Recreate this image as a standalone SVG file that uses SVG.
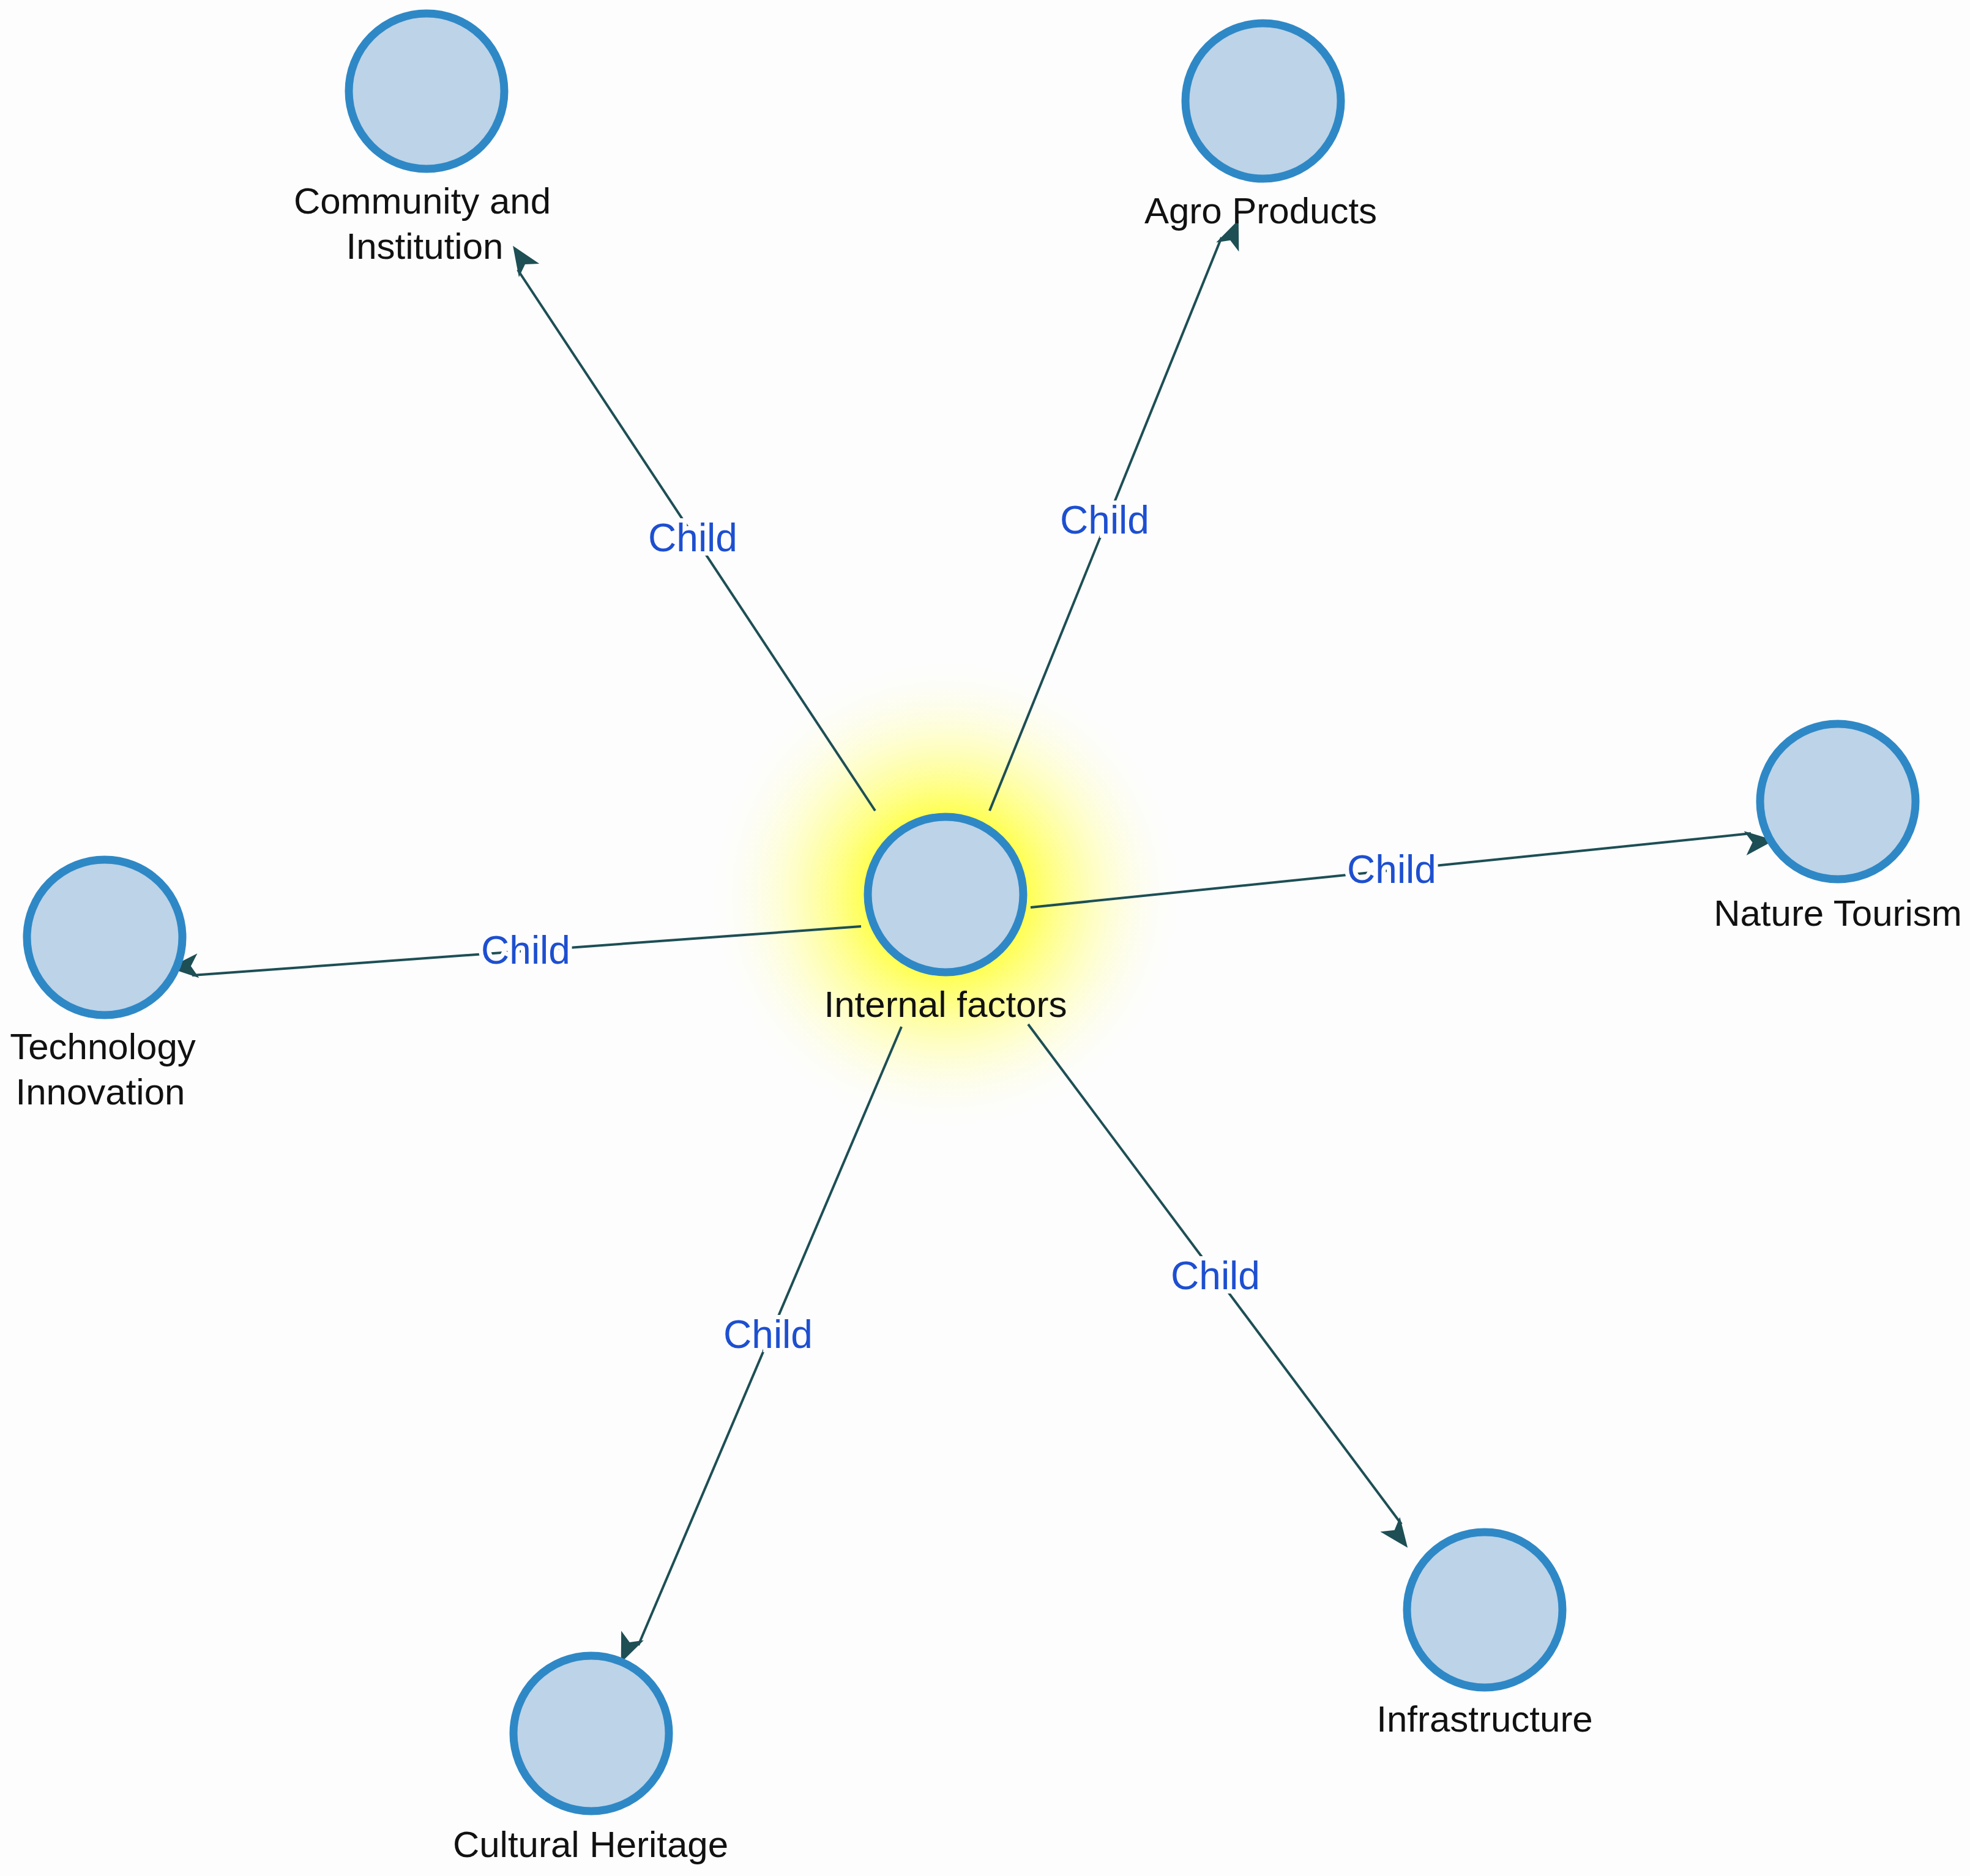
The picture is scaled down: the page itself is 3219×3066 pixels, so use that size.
<svg xmlns="http://www.w3.org/2000/svg" width="3219" height="3066" viewBox="0 0 3219 3066">
<style>
.n{fill:#bcd3e8;stroke:#2f88c6;stroke-width:13}
.t{font-family:"Liberation Sans",Arial,sans-serif;font-size:60px;fill:#111;text-anchor:middle}
.e{stroke:#1d4f55;stroke-width:4;fill:none;marker-end:url(#a)}
.l{font-family:"Liberation Sans",Arial,sans-serif;font-size:64px;fill:#1d4fd0;text-anchor:middle;stroke:#fdfdfd;stroke-width:14;paint-order:stroke}
</style>
<defs>
<marker id="a" viewBox="0 0 12 10" refX="11" refY="5" markerWidth="12" markerHeight="10" markerUnits="userSpaceOnUse" orient="auto" overflow="visible">
<path d="M0,0 L12,5 L0,10 L3,5 Z" fill="#1d4f55" transform="scale(4)"/>
</marker>
<radialGradient id="g"><stop offset="0.3" stop-color="#ffff40"/><stop offset="0.6" stop-color="#ffffa0" stop-opacity="0.7"/><stop offset="1" stop-color="#fdfdfd" stop-opacity="0"/></radialGradient>
</defs>
<rect width="3219" height="3066" fill="#fdfdfd"/>
<circle cx="1545" cy="1462" r="390" fill="url(#g)"/>
<g id="connectors">
<line class="e" x1="1430" y1="1325" x2="846" y2="441"/>
<line class="e" x1="1617" y1="1325" x2="1996" y2="388"/>
<line class="e" x1="1684" y1="1483" x2="2861" y2="1362"/>
<line class="e" x1="1407" y1="1514" x2="314" y2="1594"/>
<line class="e" x1="1473" y1="1678" x2="1043" y2="2689"/>
<line class="e" x1="1680" y1="1674" x2="2290" y2="2491"/>
<text class="l" x="1132" y="901">Child</text>
<text class="l" x="1805" y="872">Child</text>
<text class="l" x="2274" y="1443">Child</text>
<text class="l" x="859" y="1575">Child</text>
<text class="l" x="1255" y="2203">Child</text>
<text class="l" x="1986" y="2107">Child</text>
</g>
<g id="center"><circle class="n" cx="1545" cy="1462" r="127"/><text class="t" x="1545" y="1662">Internal factors</text></g>
<g id="community"><circle class="n" cx="697" cy="149" r="127"/><text class="t" x="690" y="349">Community and</text><text class="t" x="694" y="423">Institution</text></g>
<g id="agro"><circle class="n" cx="2064" cy="165" r="127"/><text class="t" x="2060" y="365">Agro Products</text></g>
<g id="nature"><circle class="n" cx="3003" cy="1310" r="127"/><text class="t" x="3003" y="1513">Nature Tourism</text></g>
<g id="technology"><circle class="n" cx="171" cy="1532" r="127"/><text class="t" x="168" y="1731">Technology</text><text class="t" x="164" y="1805">Innovation</text></g>
<g id="infrastructure"><circle class="n" cx="2426" cy="2631" r="127"/><text class="t" x="2426" y="2830">Infrastructure</text></g>
<g id="cultural"><circle class="n" cx="966" cy="2833" r="127"/><text class="t" x="965" y="3035">Cultural Heritage</text></g>
</svg>
